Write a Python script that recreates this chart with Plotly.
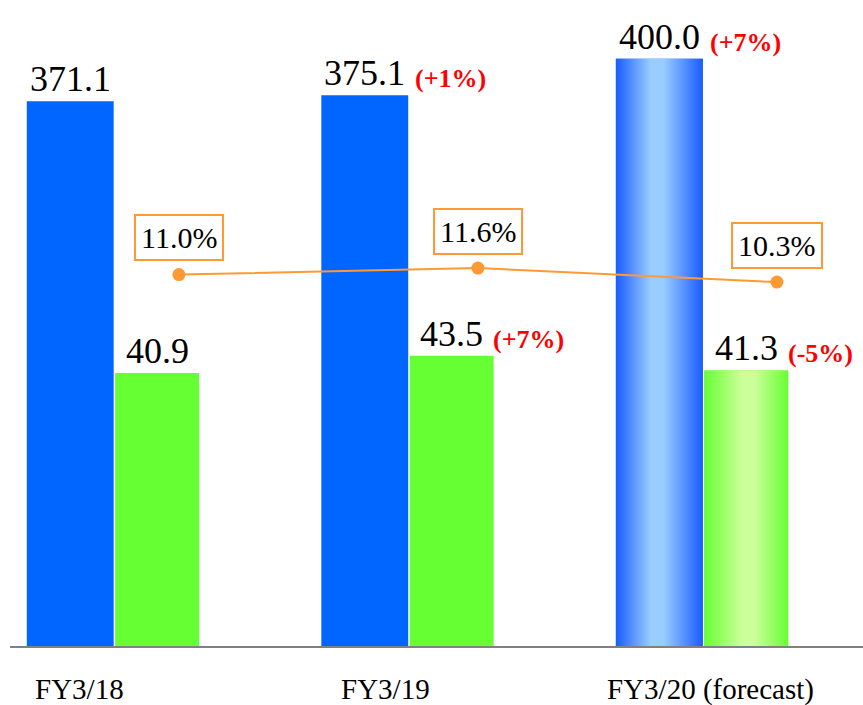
import plotly.graph_objects as go

# ---- data ----
categories = ["FY3/18", "FY3/19", "FY3/20 (forecast)"]
revenue = [371.1, 375.1, 400.0]
profit = [40.9, 43.5, 41.3]
margin = [11.0, 11.6, 10.3]
revenue_change = ["", "(+1%)", "(+7%)"]
profit_change = ["", "(+7%)", "(-5%)"]
forecast_flags = [False, False, True]

# ---- style ----
FONT = "Liberation Serif"
BLUE = "#0066FF"
GREEN = "#66FF33"
ORANGE = "#FF9933"
RED = "#FF0000"
BLUE_W, BLUE_OFF = 0.295, -0.294
GREEN_W, GREEN_OFF = 0.285, 0.006
NUM_SIZE = 36
CHG_SIZE = 26

idx = list(range(len(categories)))

fig = go.Figure()

fig.add_trace(go.Bar(x=idx, y=revenue, width=BLUE_W, offset=BLUE_OFF,
                     marker=dict(color=BLUE, line=dict(width=0)),
                     xaxis="x", yaxis="y", showlegend=False, hoverinfo="skip"))
fig.add_trace(go.Bar(x=idx, y=profit, width=GREEN_W, offset=GREEN_OFF,
                     marker=dict(color=GREEN, line=dict(width=0)),
                     xaxis="x", yaxis="y2", showlegend=False, hoverinfo="skip"))

# gradient overlay for forecast bars (shapes derived from data values)
blue_scale = [[0, "#1A5CFF"], [0.4, "#99CCFF"], [0.55, "#99CCFF"], [1, "#1A5CFF"]]
green_scale = [[0, "#66FF33"], [0.45, "#CCFF99"], [0.6, "#CCFF99"], [1, "#66FF33"]]
for i, f in zip(idx, forecast_flags):
    if not f:
        continue
    for vals, w, off, ax, cs in [(revenue, BLUE_W, BLUE_OFF, "y", blue_scale),
                                 (profit, GREEN_W, GREEN_OFF, "y2", green_scale)]:
        x0 = i + off
        x1 = x0 + w
        v = vals[i]
        fig.add_trace(go.Scatter(
            x=[x0, x1, x1, x0, x0], y=[0, 0, v, v, 0],
            mode="lines", line=dict(width=0), fill="toself",
            fillgradient=dict(type="horizontal", colorscale=cs),
            xaxis="x", yaxis=ax, showlegend=False, hoverinfo="skip"))

# margin line
fig.add_trace(go.Scatter(x=idx, y=margin, mode="lines+markers",
                         line=dict(color=ORANGE, width=2),
                         marker=dict(color=ORANGE, size=13),
                         xaxis="x2", yaxis="y3", showlegend=False, hoverinfo="skip"))

def text_width(s, size):
    w = 0
    for ch in s:
        w += 0.25 if ch == "." else 0.5
    return w * size

annotations = []
for i in idx:
    for vals, chg, w, off, yref in [(revenue, revenue_change, BLUE_W, BLUE_OFF, "y"),
                                    (profit, profit_change, GREEN_W, GREEN_OFF, "y2")]:
        cx = i + off + w / 2
        num = f"{vals[i]:.1f}"
        annotations.append(dict(x=cx, y=vals[i], xref="x", yref=yref, text=num,
                                showarrow=False, xanchor="center", yanchor="bottom",
                                yshift=0, font=dict(family=FONT, size=NUM_SIZE, color="#000000")))
        if chg[i]:
            annotations.append(dict(x=cx, y=vals[i], xref="x", yref=yref,
                                    text=f"<b>{chg[i]}</b>", showarrow=False,
                                    xanchor="left", yanchor="bottom",
                                    xshift=text_width(num, NUM_SIZE) / 2 + 8,
                                    font=dict(family=FONT, size=CHG_SIZE, color=RED)))

for i in idx:
    annotations.append(dict(x=i, y=margin[i], xref="x2", yref="y3",
                            text=f"{margin[i]:.1f}%", showarrow=False,
                            xanchor="center", yanchor="middle", yshift=37,
                            bgcolor="#FFFFFF", bordercolor=ORANGE, borderwidth=2, borderpad=5,
                            font=dict(family=FONT, size=30, color="#000000")))

label_shift = [-34, -22, 8]
for i in idx:
    annotations.append(dict(x=i, y=0, xref="x", yref="paper", text=categories[i],
                            showarrow=False, xanchor="center", yanchor="middle",
                            xshift=label_shift[i], yshift=-43,
                            font=dict(family=FONT, size=29, color="#000000")))

fig.update_layout(
    width=863, height=705,
    margin=dict(l=10, r=0, t=0, b=59),
    paper_bgcolor="#FFFFFF", plot_bgcolor="#FFFFFF",
    barmode="overlay",
    font=dict(family=FONT),
    xaxis=dict(range=[-0.351, 2.545], showgrid=False, zeroline=False,
               showticklabels=False, ticks="", showline=True,
               linecolor="#808080", linewidth=2),
    xaxis2=dict(range=[-0.565, 2.288], overlaying="x", visible=False),
    yaxis=dict(range=[0, 440], visible=False),
    yaxis2=dict(range=[0, 96.8], overlaying="y", visible=False),
    yaxis3=dict(range=[-23.5, 36.5], overlaying="y", visible=False),
    annotations=annotations,
)

fig.write_html("out.html", config={"displayModeBar": False},
               post_script="document.body.style.margin='0';document.body.style.padding='0';")
